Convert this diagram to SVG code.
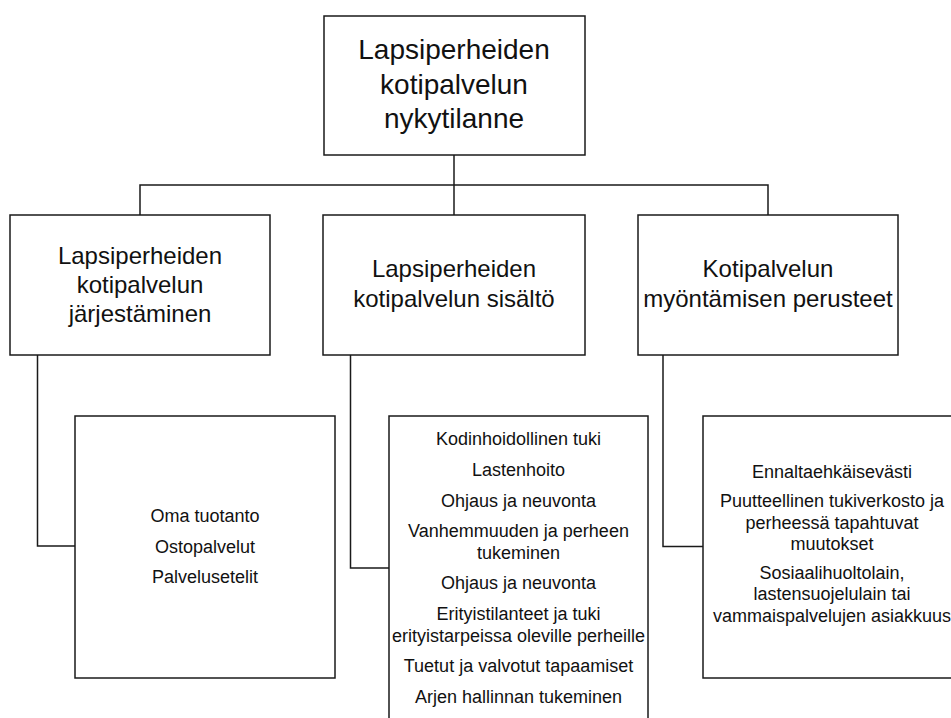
<svg xmlns="http://www.w3.org/2000/svg" width="951" height="718" viewBox="0 0 951 718">
<style>
rect.box{fill:#fff;stroke:#1a1a1a;stroke-width:1.5}
.conn path{fill:none;stroke:#1a1a1a;stroke-width:1.5}
text{font-family:"Liberation Sans",Arial,sans-serif;fill:#111;text-anchor:middle}
.t1{font-size:28px}
.t2{font-size:24px}
.t3{font-size:18px}
</style>
<rect width="951" height="718" fill="#fff"/>
<g class="conn">
<path d="M454 155 V185"/>
<path d="M140 215 V185 H768 V215"/>
<path d="M454 185 V215"/>
<path d="M37.5 355 V546 H75"/>
<path d="M350.5 355 V568 H389"/>
<path d="M663 355 V546.5 H703"/>
</g>
<g id="root">
<rect class="box" x="324" y="16" width="261" height="139"/>
<text class="t1" x="454" y="59">Lapsiperheiden</text>
<text class="t1" x="454" y="94">kotipalvelun</text>
<text class="t1" x="454" y="128">nykytilanne</text>
</g>
<g id="jarjestaminen">
<rect class="box" x="10" y="215" width="260" height="140"/>
<text class="t2" x="140" y="264">Lapsiperheiden</text>
<text class="t2" x="140" y="293">kotipalvelun</text>
<text class="t2" x="140" y="322">järjestäminen</text>
</g>
<g id="sisalto">
<rect class="box" x="323" y="215" width="262" height="140"/>
<text class="t2" x="454" y="277">Lapsiperheiden</text>
<text class="t2" x="454" y="306.5">kotipalvelun sisältö</text>
</g>
<g id="perusteet">
<rect class="box" x="638" y="215" width="260" height="140"/>
<text class="t2" x="768" y="277">Kotipalvelun</text>
<text class="t2" x="768" y="306.5">myöntämisen perusteet</text>
</g>
<g id="jarjestaminen-items">
<rect class="box" x="75" y="416" width="260" height="262"/>
<text class="t3" x="205" y="522">Oma tuotanto</text>
<text class="t3" x="205" y="553">Ostopalvelut</text>
<text class="t3" x="205" y="583">Palvelusetelit</text>
</g>
<g id="sisalto-items">
<rect class="box" x="389" y="416" width="259" height="330"/>
<text class="t3" x="518.5" y="445">Kodinhoidollinen tuki</text>
<text class="t3" x="518.5" y="476">Lastenhoito</text>
<text class="t3" x="518.5" y="506.5">Ohjaus ja neuvonta</text>
<text class="t3" x="518.5" y="537">Vanhemmuuden ja perheen</text>
<text class="t3" x="518.5" y="558.5">tukeminen</text>
<text class="t3" x="518.5" y="589">Ohjaus ja neuvonta</text>
<text class="t3" x="518.5" y="620">Erityistilanteet ja tuki</text>
<text class="t3" x="518.5" y="641.5">erityistarpeissa oleville perheille</text>
<text class="t3" x="518.5" y="672">Tuetut ja valvotut tapaamiset</text>
<text class="t3" x="518.5" y="703">Arjen hallinnan tukeminen</text>
</g>
<g id="perusteet-items">
<rect class="box" x="703" y="416" width="260" height="262"/>
<text class="t3" x="832" y="478">Ennaltaehkäisevästi</text>
<text class="t3" x="832" y="507">Puutteellinen tukiverkosto ja</text>
<text class="t3" x="832" y="528.5">perheessä tapahtuvat</text>
<text class="t3" x="832" y="550">muutokset</text>
<text class="t3" x="832" y="578.5">Sosiaalihuoltolain,</text>
<text class="t3" x="832" y="600">lastensuojelulain tai</text>
<text class="t3" x="832" y="621.5">vammaispalvelujen asiakkuus</text>
</g>
</svg>
